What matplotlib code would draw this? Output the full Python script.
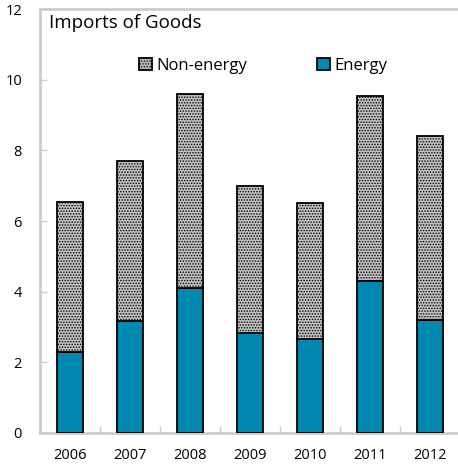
import matplotlib.pyplot as plt
from matplotlib.ticker import FixedLocator

plt.rcParams['font.family'] = ['Open Sans', 'DejaVu Sans']
plt.rcParams['hatch.color'] = '#e8e8e8'
plt.rcParams['hatch.linewidth'] = 0.7

years = ['2006', '2007', '2008', '2009', '2010', '2011', '2012']
energy = [2.29, 3.17, 4.10, 2.83, 2.66, 4.30, 3.20]
non_energy = [4.25, 4.53, 5.50, 4.16, 3.85, 5.24, 5.21]

spine_col = '#cccccc'
energy_col = '#0088ae'

fig = plt.figure(figsize=(4.58, 4.67), dpi=100)
# axes run a little past the right edge, as in the cropped reference
ax = fig.add_axes([40 / 458, (467 - 433) / 467, 420 / 458, 424 / 467])

x = list(range(len(years)))
w = 0.42
ax.bar(x, energy, w, color=energy_col, edgecolor='black', linewidth=1.3,
       label='Energy', zorder=3)
ax.bar(x, non_energy, w, bottom=energy, color='#c2c2c2', hatch='......',
       edgecolor='black', linewidth=1.3, label='Non-energy', zorder=3)

ax.set_xlim(-0.5, 6.5)
ax.set_ylim(0, 12)
ax.set_xticks(x)
ax.set_xticklabels(years)
ax.xaxis.set_minor_locator(FixedLocator([i + 0.5 for i in x]))
ax.set_yticks(range(0, 13, 2))

ax.tick_params(axis='x', which='major', length=0, pad=11, labelsize=10.5)
ax.tick_params(axis='x', which='minor', direction='in', length=5,
               color=spine_col, width=1)
ax.tick_params(axis='y', direction='in', length=5, color=spine_col,
               width=1, pad=13, labelsize=10.5)

for s in ['left', 'bottom', 'top', 'right']:
    ax.spines[s].set_color(spine_col)
    ax.spines[s].set_linewidth(2)

ax.text(0.022, 0.988, 'Imports of Goods', transform=ax.transAxes,
        fontsize=13.5, va='top', ha='left')

h, l = ax.get_legend_handles_labels()
leg = ax.legend(h[::-1], l[::-1], ncol=2, frameon=False, fontsize=12,
                loc='upper left', bbox_to_anchor=(0.2, 0.92),
                handlelength=0.75, handleheight=0.75, handletextpad=0.3,
                columnspacing=4.2)

fig.savefig('out.png', dpi=100)
